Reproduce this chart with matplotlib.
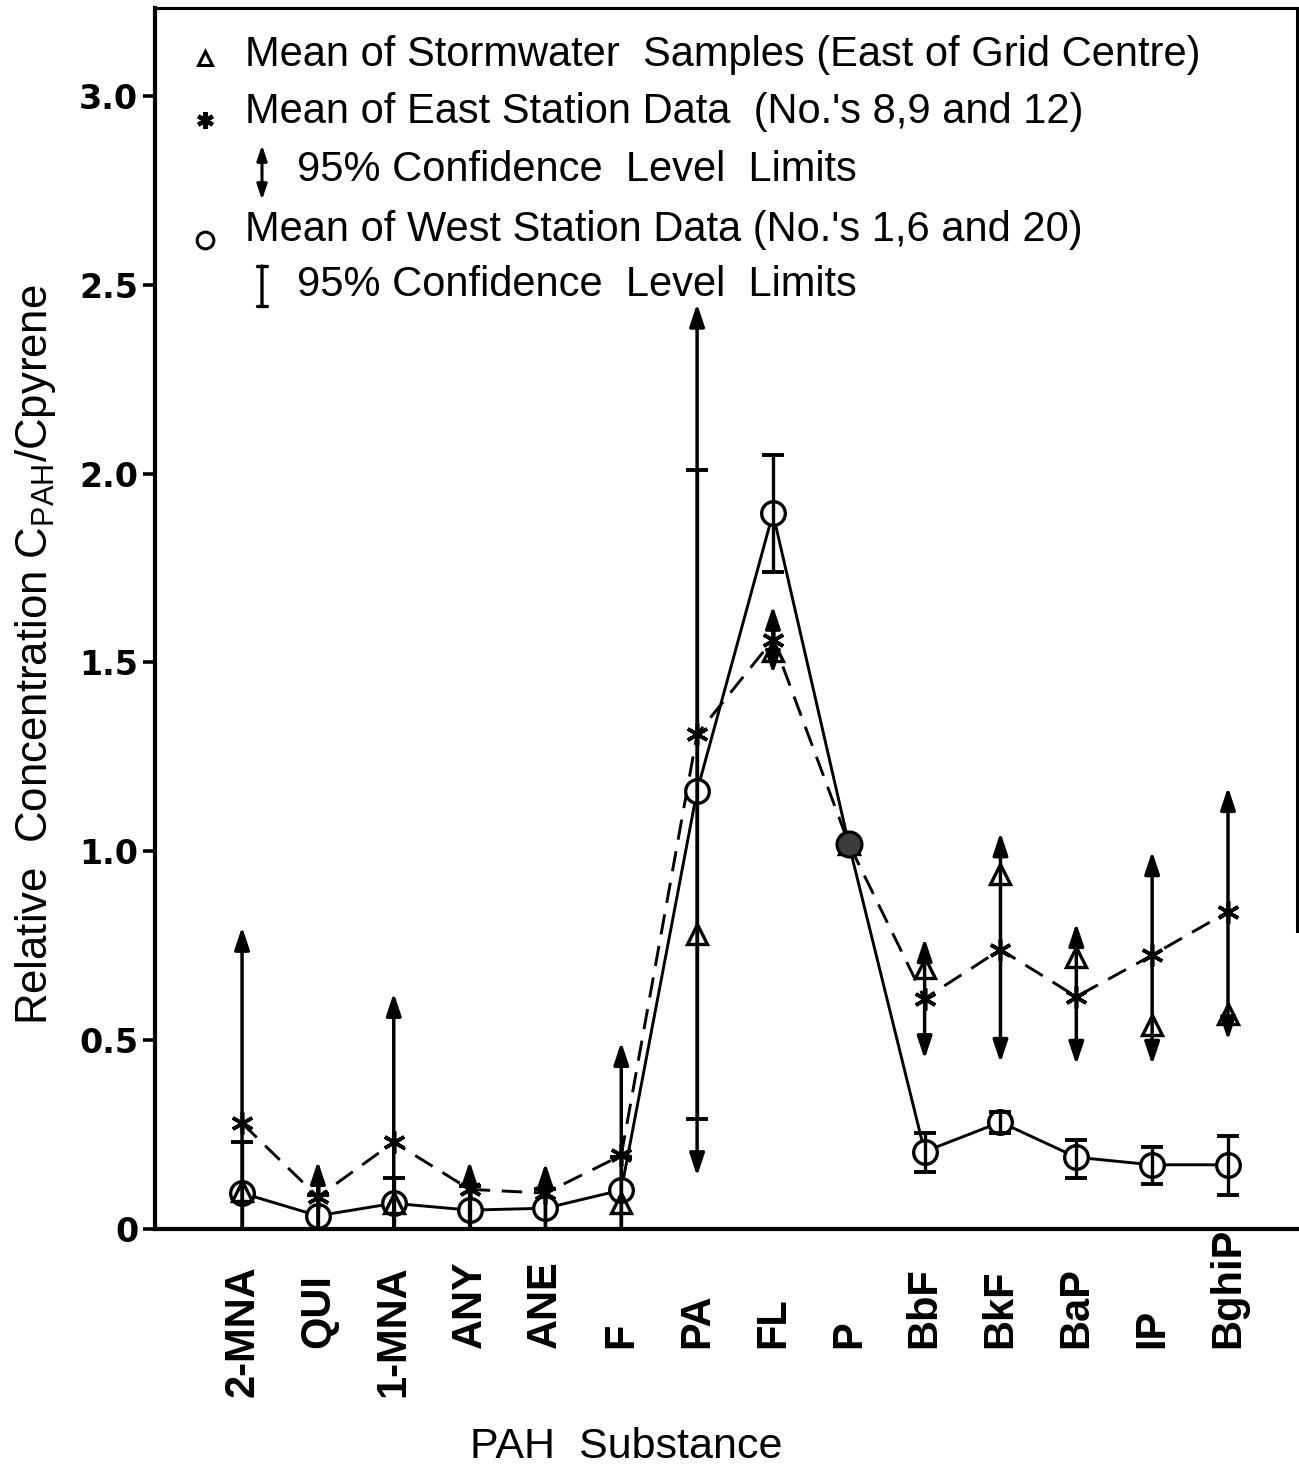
import numpy as np
import matplotlib
matplotlib.use('Agg')
import matplotlib.pyplot as plt
import matplotlib.transforms as mtransforms

# ---------------- data ----------------
categories = ['2-MNA', 'QUI', '1-MNA', 'ANY', 'ANE', 'F', 'PA', 'FL', 'P',
              'BbF', 'BkF', 'BaP', 'IP', 'BghiP']
storm_mean = [0.10, np.nan, 0.07, np.nan, np.nan, 0.068, 0.78, 1.53, 1.02,
              0.69, 0.94, 0.72, 0.54, 0.57]
east_mean = [0.28, 0.085, 0.23, 0.105, 0.095, 0.195, 1.31, 1.56, 1.02,
             0.61, 0.74, 0.615, 0.725, 0.84]
east_upper = [0.80, 0.18, 0.625, 0.18, 0.175, 0.495, 2.45, 1.65, np.nan,
              0.77, 1.05, 0.81, 1.00, 1.17]
east_lower = [0.0, 0.0, 0.0, 0.0, 0.0, 0.0, 0.14, 1.47, np.nan,
              0.45, 0.44, 0.435, 0.435, 0.50]
west_mean = [0.095, 0.035, 0.068, 0.05, 0.055, 0.103, 1.16, 1.895, 1.02,
             0.205, 0.283, 0.19, 0.17, 0.17]
west_upper = [0.23, 0.09, 0.135, 0.115, 0.105, 0.19, 2.01, 2.05, np.nan,
              0.255, 0.31, 0.235, 0.217, 0.245]
west_lower = [0.0, 0.0, 0.0, 0.0, 0.0, 0.0, 0.29, 1.74, np.nan,
              0.15, 0.255, 0.135, 0.12, 0.09]
yticks = [0, 0.5, 1.0, 1.5, 2.0, 2.5, 3.0]
ytick_labels = ['0', '0.5', '1.0', '1.5', '2.0', '2.5', '3.0']
reference = 'P'

legend_lines = [
    'Mean of Stormwater  Samples (East of Grid Centre)',
    'Mean of East Station Data  (No.\'s 8,9 and 12)',
    '95% Confidence  Level  Limits',
    'Mean of West Station Data (No.\'s 1,6 and 20)',
    '95% Confidence  Level  Limits',
]

# ---------------- style ----------------
plt.rcParams['font.family'] = ['Liberation Sans', 'DejaVu Sans']
plt.rcParams['mathtext.fontset'] = 'custom'
plt.rcParams['mathtext.rm'] = 'Liberation Sans'
plt.rcParams['mathtext.it'] = 'Liberation Sans'

W, H, DPI = 1299, 1478, 100
fig = plt.figure(figsize=(W / DPI, H / DPI), dpi=DPI)
ax_l, ax_r, ax_t, ax_b = 155, 1297, 8, 1229
ax = fig.add_axes([ax_l / W, 1 - ax_b / H, (ax_r - ax_l) / W, (ax_b - ax_t) / H])

x = np.arange(len(categories))
ax.set_xlim(-1.148, 13.91)
ax.set_ylim(0, 3.233)

wm = np.array(west_mean)
wu = np.array(west_upper)
wl = np.array(west_lower)
em = np.array(east_mean)
sm = np.array(storm_mean)

# connecting lines
ax.plot(x, wm, color='k', lw=2.1, zorder=2, solid_capstyle='butt')
ax.plot(x, em, color='k', lw=2.1, ls=(0, (7, 4)), zorder=2)

# West markers (white-filled, so lines stop at the circle)
ref_i = categories.index(reference)
notref = x != ref_i
ax.plot(x[notref], wm[notref], 'o', ms=17, mfc='white', mec='k', mew=2.4,
        ls='none', zorder=4)

# West 95% limits (I-bars)
mask = ~np.isnan(wu)
ax.errorbar(x[mask], wm[mask], yerr=[wm[mask] - wl[mask], wu[mask] - wm[mask]],
            fmt='none', ecolor='k', elinewidth=2.4, capsize=8, capthick=2.8,
            zorder=5)

# East 95% limits (arrows)
for xi, lo, hi in zip(x, east_lower, east_upper):
    if np.isnan(hi):
        continue
    style = '-|>' if lo <= 0 else '<|-|>'
    ax.annotate('', xy=(xi, hi), xytext=(xi, lo), xycoords='data',
                arrowprops=dict(arrowstyle=style + ',head_length=1.35,head_width=0.45',
                                lw=2.5, color='k', shrinkA=0, shrinkB=0,
                                mutation_scale=10),
                zorder=5, annotation_clip=False)

# Stormwater triangles and East stars
ax.plot(x, sm, '^', ms=15, mfc='none', mec='k', mew=2.4, ls='none', zorder=6)
ax.plot(x, em, marker=(6, 2, 0), ms=16, mec='k', mew=2.6, ls='none', zorder=6)

# reference substance (all series = 1)
ax.plot([x[ref_i]], [wm[ref_i]], 'o', ms=18, mfc='#3c3c3c', mec='k', mew=2.2,
        ls='none', zorder=8)

# spines & ticks
for s in ['left', 'bottom']:
    ax.spines[s].set_linewidth(3.0)
for s in ['top', 'right']:
    ax.spines[s].set_linewidth(2.2)
ax.spines['right'].set_bounds(0.79, 3.233)
ax.set_yticks(yticks)
ax.set_yticklabels(ytick_labels, fontfamily='DejaVu Sans', fontweight='bold',
                   fontsize=24)
ax.tick_params(axis='y', direction='out', length=9, width=2.6, pad=3)
ax.set_xticks([])

# category labels (rotated), letters aligned after numeric prefix
renderer = fig.canvas.get_renderer()
lab_kw = dict(fontsize=30, fontweight='bold', fontfamily='Liberation Sans')
trans = mtransforms.blended_transform_factory(ax.transData, ax.transAxes)
start_px = 1348
ax_h = ax_b - ax_t
for xi, lab in zip(x, categories):
    off = 0.0
    if '-' in lab:
        pre = lab.split('-')[0] + '-'
        tmp = fig.text(0, 0, pre, **lab_kw)
        off = tmp.get_window_extent(renderer).width + 12
        tmp.remove()
    y_ax = (ax_b - start_px - off) / ax_h
    ax.text(xi, y_ax, lab, rotation=90, rotation_mode='anchor', ha='left',
            va='center', transform=trans, **lab_kw)

fig.text(626 / W, 1 - 1447 / H, 'PAH  Substance', fontsize=31, ha='center',
         va='center')
fig.text(36 / W, 1 - 655 / H,
         r'Relative  Concentration C$_{\mathrm{PAH}}$/Cpyrene', fontsize=31.5,
         rotation=90, ha='center', va='center')

# legend (drawn as a key block inside the axes)
def fx(px):
    return (px - ax_l) / (ax_r - ax_l)

def fy(py):
    return (ax_b - py) / ax_h

leg_kw = dict(fontsize=30, va='center', ha='left', transform=ax.transAxes)
rows_py = [55, 112, 170, 230, 285]
ax.plot([fx(205)], [fy(58)], '^', ms=10, mfc='none', mec='k', mew=2.2,
        transform=ax.transAxes, clip_on=False)
ax.plot([fx(205)], [fy(120)], marker=(6, 2, 0), ms=12, mec='k', mew=3,
        transform=ax.transAxes, clip_on=False)
ax.plot([fx(205)], [fy(240)], 'o', ms=12, mfc='none', mec='k', mew=2.2,
        transform=ax.transAxes, clip_on=False)
ax.annotate('', xy=(fx(262), fy(145)), xytext=(fx(262), fy(200)),
            xycoords='axes fraction',
            arrowprops=dict(arrowstyle='<|-|>,head_length=0.9,head_width=0.3',
                            lw=2.2, color='k', shrinkA=0, shrinkB=0,
                            mutation_scale=10))
ax.annotate('', xy=(fx(262), fy(266)), xytext=(fx(262), fy(306)),
            xycoords='axes fraction',
            arrowprops=dict(arrowstyle='|-|,widthA=0.35,widthB=0.35',
                            lw=2.4, color='k', shrinkA=0, shrinkB=0,
                            mutation_scale=10))
text_x = [245, 245, 297, 245, 297]
for tx, py, s in zip(text_x, rows_py, legend_lines):
    ax.text(fx(tx), fy(py), s, **leg_kw)

fig.savefig('out.png', dpi=DPI, facecolor='white')
